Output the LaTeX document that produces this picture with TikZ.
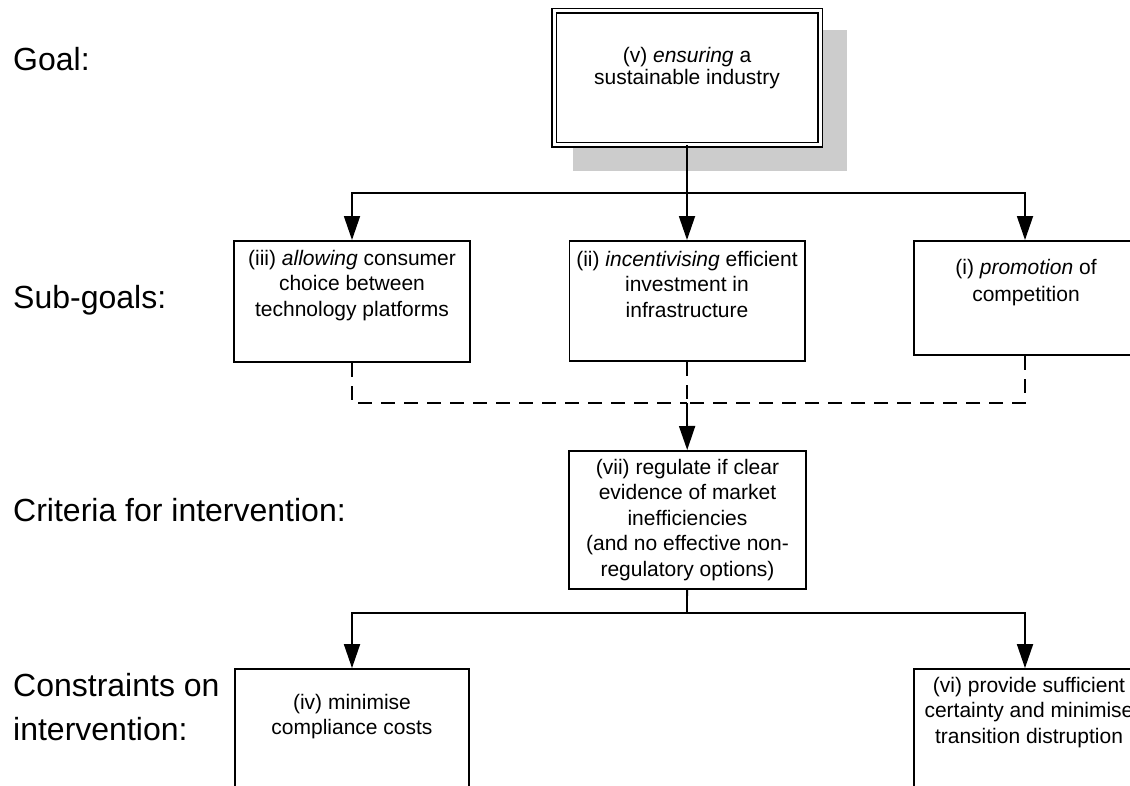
\documentclass[tikz,border=0pt]{standalone}
\usepackage{fontspec}
\setmainfont{Liberation Sans}
\usetikzlibrary{arrows.meta}

\tikzset{
  box/.style={draw, line width=1.8pt, fill=white, inner sep=0pt},
  goalbox/.style={draw, double, double distance=3pt, line width=1.5pt, fill=white, inner sep=0pt},
  boxtext/.style={align=center, inner sep=0pt, anchor=north, font=\fontsize{21}{25.5}\selectfont},
  rowlabel/.style={inner sep=0pt, align=left, anchor=north west, font=\fontsize{32}{44}\selectfont},
  link/.style={line width=1.8pt},
  arrow/.style={link, -{Triangle[length=24pt,width=16pt]}},
  dashlink/.style={link, dash pattern=on 14pt off 9pt},
}

\begin{document}
\begin{tikzpicture}[x=1pt, y=-1pt]
  \clip (0,0) rectangle (1130,785);

  % row labels
  \node[rowlabel] (lgoal) at (13,47) {Goal:};
  \node[rowlabel] (lsub) at (13,285) {Sub-goals:};
  \node[rowlabel] (lcrit) at (13,498) {Criteria for intervention:};
  \node[rowlabel] (lcons) at (13,673) {Constraints on\\intervention:};

  % goal
  \fill[black!20] (573,30) rectangle (847,171);
  \node[goalbox, minimum width=266pt, minimum height=134pt] (goal) at (687,77.5) {};
  \node[boxtext, font=\fontsize{21}{22.5}\selectfont] (goaltxt) at (687,47) {(v) \textit{ensuring} a\\sustainable industry};

  % sub-goals
  \node[box, minimum width=236.2pt, minimum height=121.2pt] (sub3) at (352,301.5) {};
  \node[box, minimum width=235.2pt, minimum height=120.2pt] (sub2) at (687,301) {};
  \node[box, minimum width=222.2pt, minimum height=114.2pt] (sub1) at (1025,298) {};
  \node[boxtext] (sub3txt) at (352,250) {(iii) \textit{allowing} consumer\\choice between\\technology platforms};
  \node[boxtext] (sub2txt) at (687,251) {(ii) \textit{incentivising} efficient\\investment in\\infrastructure};
  \node[boxtext, font=\fontsize{21}{27}\selectfont] (sub1txt) at (1026,259) {(i) \textit{promotion} of\\competition};

  % criteria
  \node[box, minimum width=237.2pt, minimum height=138.2pt] (crit) at (687.5,520) {};
  \node[boxtext] (crittxt) at (687.5,459) {(vii) regulate if clear\\evidence of market\\inefficiencies\\(and no effective non-\\regulatory options)};

  % constraints
  \node[box, minimum width=234.2pt, minimum height=140pt] (con4) at (352,739) {};
  \node[box, minimum width=222.2pt, minimum height=140pt] (con6) at (1025,739) {};
  \node[boxtext] (con4txt) at (352,694) {(iv) minimise\\compliance costs};
  \node[boxtext] (con6txt) at (1029,677) {(vi) provide sufficient\\certainty and minimise\\transition distruption};

  % connectors
  \coordinate (split1) at (687,193);
  \coordinate (join) at (687,403);
  \coordinate (split2) at (687,613);

  \draw[link] (goal) -- (split1);
  \draw[arrow] (split1) -| (sub3);
  \draw[arrow] (split1) -- (sub2);
  \draw[arrow] (split1) -| (sub1);

  \draw[dashlink] (sub3) |- (join);
  \draw[dashlink] (sub1) |- (join);
  \draw[dashlink] (sub2) -- (join);
  \draw[arrow] (join) -- (crit);

  \draw[link] (crit) -- (split2);
  \draw[arrow] (split2) -| (con4);
  \draw[arrow] (split2) -| (con6);
\end{tikzpicture}
\end{document}
